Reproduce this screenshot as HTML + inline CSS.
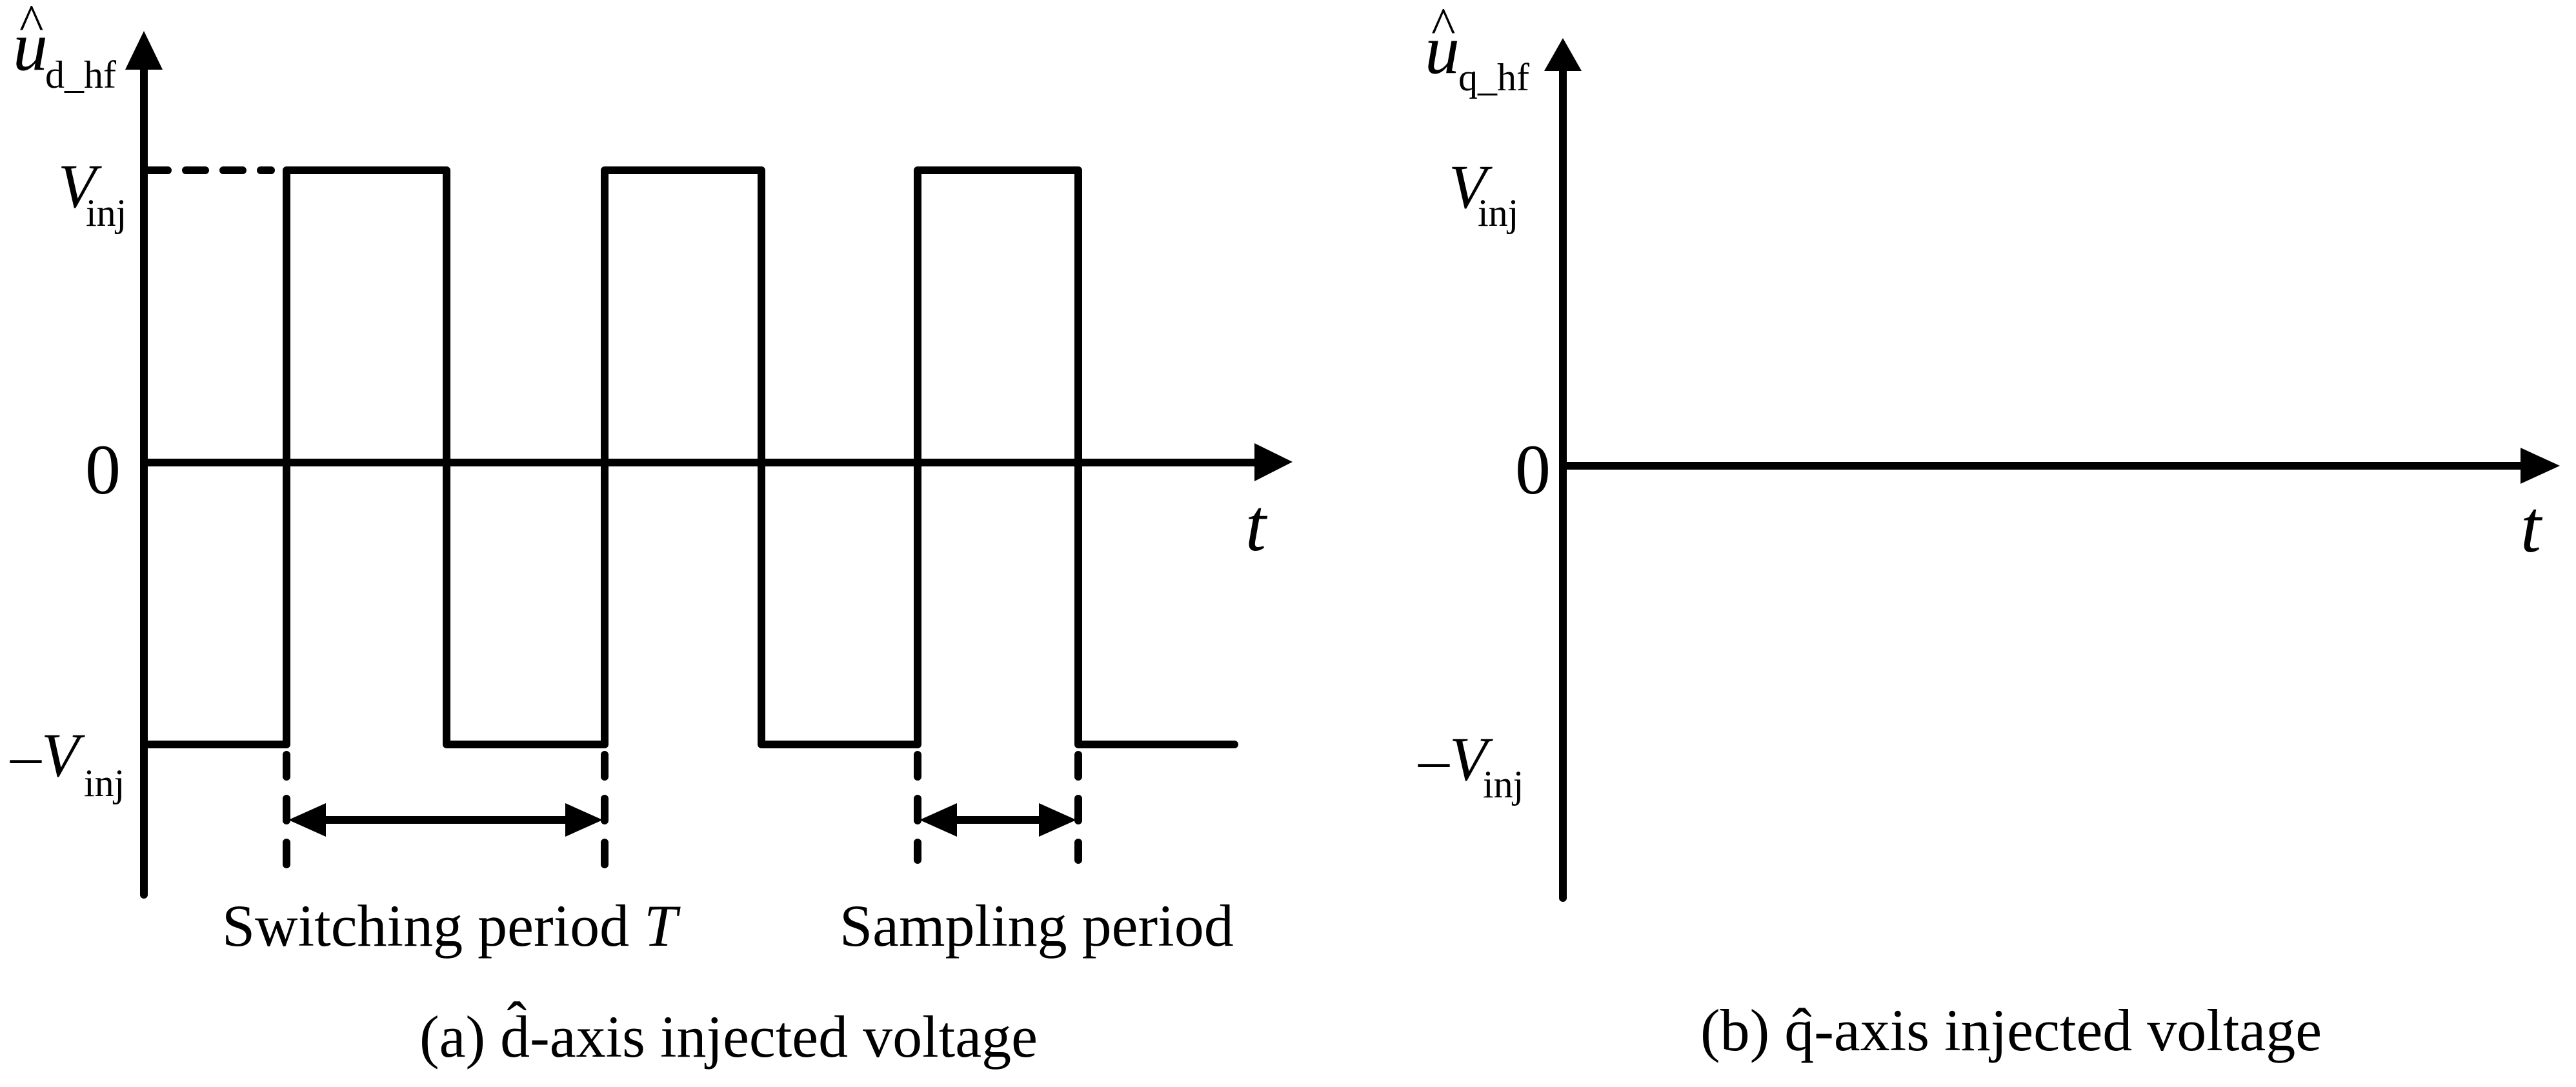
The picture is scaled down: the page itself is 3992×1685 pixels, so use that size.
<!DOCTYPE html>
<html><head><meta charset="utf-8"><style>
html,body{margin:0;padding:0;background:#fff;}
svg{display:block;}
text{font-family:"Liberation Serif",serif;fill:#000;}
</style></head><body>
<svg width="3992" height="1685" viewBox="0 0 3992 1685" xmlns="http://www.w3.org/2000/svg">
<g stroke="#000" stroke-width="12" fill="none" stroke-linecap="round" stroke-linejoin="round">
  <!-- left axes -->
  <line x1="223" y1="100" x2="223" y2="1387"/>
  <line x1="223" y1="717" x2="1950" y2="717"/>
  <!-- square wave -->
  <polyline points="223,1154 444,1154 444,264 692,264 692,1154 937,1154 937,264 1180,264 1180,1154 1422,1154 1422,264 1671,264 1671,1154 1913,1154"/>
  <!-- dashed high level -->
  <line x1="230" y1="264" x2="420" y2="264" stroke-dasharray="30,28"/>
  <!-- dashed verticals -->
  <line x1="444" y1="1170" x2="444" y2="1356" stroke-dasharray="34,34"/>
  <line x1="937" y1="1170" x2="937" y2="1356" stroke-dasharray="34,34"/>
  <line x1="1422" y1="1170" x2="1422" y2="1333" stroke-dasharray="34,34"/>
  <line x1="1671" y1="1170" x2="1671" y2="1333" stroke-dasharray="34,34"/>
  <!-- double arrows -->
  <line x1="490" y1="1271" x2="890" y2="1271"/>
  <line x1="1470" y1="1271" x2="1625" y2="1271"/>
  <!-- right axes -->
  <line x1="2422" y1="100" x2="2422" y2="1392"/>
  <line x1="2422" y1="722" x2="3910" y2="722"/>
</g>
<g fill="#000">
  <polygon points="223,48 194,108 252,108"/>
  <polygon points="2003,716 1944,687 1944,746"/>
  <polygon points="447,1271 505,1245 505,1297"/>
  <polygon points="934,1271 876,1245 876,1297"/>
  <polygon points="1425,1271 1483,1245 1483,1297"/>
  <polygon points="1668,1271 1610,1245 1610,1297"/>
  <polygon points="2422,59 2393,110 2451,110"/>
  <polygon points="3967,722 3906,694 3906,750"/>
</g>
<!-- left labels -->
<text x="20" y="108" font-size="108" font-style="italic">u</text>
<text x="30" y="62" font-size="80">^</text>
<text x="70" y="136" font-size="60">d_hf</text>
<text x="90" y="321" font-size="96" font-style="italic">V</text>
<text x="133" y="350" font-size="60">inj</text>
<text x="132" y="765" font-size="110">0</text>
<text x="16" y="1203" font-size="96">–<tspan font-style="italic">V</tspan></text>
<text x="130" y="1234" font-size="60">inj</text>
<text x="1930" y="853" font-size="115" font-style="italic">t</text>
<text x="344" y="1466" font-size="92">Switching period <tspan font-style="italic">T</tspan></text>
<text x="1301" y="1466" font-size="92">Sampling period</text>
<text x="650" y="1638" font-size="92">(a) d̂-axis injected voltage</text>
<!-- right labels -->
<text x="2208" y="113" font-size="108" font-style="italic">u</text>
<text x="2218" y="67" font-size="80">^</text>
<text x="2260" y="140" font-size="60">q_hf</text>
<text x="2245" y="322" font-size="96" font-style="italic">V</text>
<text x="2290" y="350" font-size="60">inj</text>
<text x="2348" y="765" font-size="110">0</text>
<text x="2198" y="1209" font-size="96">–<tspan font-style="italic">V</tspan></text>
<text x="2298" y="1236" font-size="60">inj</text>
<text x="3906" y="855" font-size="115" font-style="italic">t</text>
<text x="2635" y="1628" font-size="92">(b) q̂-axis injected voltage</text>
</svg>
</body></html>
